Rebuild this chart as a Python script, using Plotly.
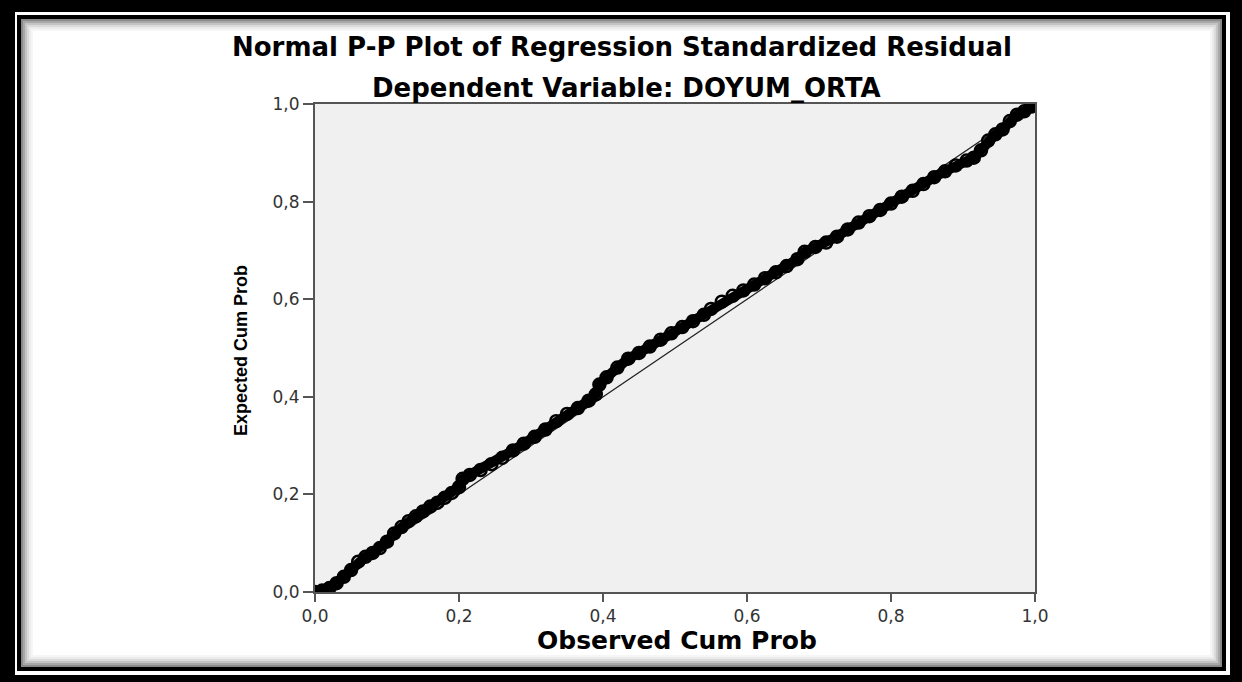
import plotly.graph_objects as go

W, H = 1242, 682
ML, MR, MT, MB = 315, 207, 104, 90
PW, PH = W - ML - MR, H - MT - MB

# Observed vs expected cumulative probabilities
observed = [0.000, 0.010, 0.020, 0.030, 0.040, 0.050, 0.060, 0.070, 0.080, 0.090,
            0.100, 0.110, 0.120, 0.130, 0.140, 0.150, 0.160, 0.170, 0.180, 0.190,
            0.200, 0.205, 0.215, 0.230, 0.245, 0.260, 0.275, 0.290, 0.305, 0.320,
            0.335, 0.350, 0.365, 0.380, 0.390, 0.395, 0.405, 0.420, 0.435, 0.450,
            0.465, 0.480, 0.495, 0.510, 0.525, 0.540, 0.550, 0.565, 0.580, 0.595,
            0.610, 0.625, 0.640, 0.655, 0.670, 0.680, 0.695, 0.710, 0.725, 0.740,
            0.755, 0.770, 0.785, 0.800, 0.815, 0.830, 0.845, 0.860, 0.875, 0.890,
            0.905, 0.915, 0.925, 0.935, 0.945, 0.955, 0.965, 0.975, 0.985, 0.995, 1.000]
expected = [0.000, 0.003, 0.008, 0.018, 0.031, 0.045, 0.062, 0.072, 0.080, 0.090,
            0.103, 0.120, 0.133, 0.145, 0.155, 0.165, 0.175, 0.183, 0.193, 0.203,
            0.215, 0.232, 0.240, 0.250, 0.262, 0.275, 0.290, 0.304, 0.318, 0.333,
            0.350, 0.365, 0.377, 0.392, 0.405, 0.425, 0.440, 0.460, 0.478, 0.490,
            0.503, 0.517, 0.530, 0.543, 0.555, 0.568, 0.580, 0.595, 0.607, 0.618,
            0.630, 0.643, 0.655, 0.668, 0.682, 0.697, 0.707, 0.716, 0.728, 0.743,
            0.757, 0.770, 0.783, 0.796, 0.810, 0.822, 0.836, 0.850, 0.862, 0.874,
            0.884, 0.890, 0.905, 0.925, 0.938, 0.948, 0.965, 0.978, 0.985, 0.995, 1.000]

ref_line = [0.0, 1.0]
tick_vals = [0.0, 0.2, 0.4, 0.6, 0.8, 1.0]
tick_text = ["0,0", "0,2", "0,4", "0,6", "0,8", "1,0"]

title1 = "Normal P-P Plot of Regression Standardized Residual"
title2 = "Dependent Variable: DOYUM_ORTA"
x_title = "Observed Cum Prob"
y_title = "Expected Cum Prob"


def px(x):
    return (x - ML) / PW


def py(y):
    return (H - MB - y) / PH


fig = go.Figure()
fig.add_trace(go.Scatter(x=ref_line, y=ref_line, mode="lines",
                         line=dict(color="#222222", width=1.3),
                         hoverinfo="skip", showlegend=False))
fig.add_trace(go.Scatter(x=observed, y=expected, mode="lines+markers",
                         line=dict(color="black", width=10),
                         marker=dict(symbol="circle-open", size=12, color="black",
                                     line=dict(width=2.5, color="black")),
                         showlegend=False))

shapes = []


def box(x0, y0, x1, y1, color):
    shapes.append(dict(type="rect", xref="paper", yref="paper",
                       x0=px(x0), x1=px(x1), y0=py(y1), y1=py(y0),
                       fillcolor=color, line=dict(width=0), layer="below"))


def frame(l, t, r, b, thick, color):
    box(l, t, r, t + thick, color)
    box(l, b - thick, r, b, color)
    box(l, t, l + thick, b, color)
    box(r - thick, t, r, b, color)


# outer thick black frame
box(0, 0, W, 12, "black")
box(0, 675, W, H, "black")
box(0, 0, 15, H, "black")
box(1230, 0, W, H, "black")
# inner thin black frame
frame(17, 15, 1226, 671, 4, "black")
# soft shadow inside the inner frame
shades = ["#8a8a8a", "#a8a8a8", "#c4c4c4", "#dadada", "#ebebeb", "#f6f6f6"]
for i, c in enumerate(shades):
    frame(21 + 2 * i, 19 + 2 * i, 1222 - 2 * i, 667 - 2 * i, 2, c)

annotations = [
    dict(text=title1, x=px(622), y=py(47), xref="paper", yref="paper",
         showarrow=False, font=dict(family="DejaVu Sans", size=26, color="black",
                                    weight="bold"), xanchor="center", yanchor="middle"),
    dict(text=title2, x=px(626), y=py(88), xref="paper", yref="paper",
         showarrow=False, font=dict(family="DejaVu Sans", size=26, color="black",
                                    weight="bold"), xanchor="center", yanchor="middle"),
    dict(text=x_title, x=px(677), y=py(640), xref="paper", yref="paper",
         showarrow=False, font=dict(family="DejaVu Sans", size=25, color="black",
                                    weight="bold"), xanchor="center", yanchor="middle"),
    dict(text=y_title, x=px(241), y=py(351), xref="paper", yref="paper",
         showarrow=False, textangle=-90,
         font=dict(family="Liberation Sans", size=18, color="black", weight="bold"),
         xanchor="center", yanchor="middle"),
]

axis_common = dict(range=[0, 1], tickvals=tick_vals, ticktext=tick_text,
                   showgrid=False, zeroline=False, showline=True, mirror=True,
                   linecolor="#555555", linewidth=2, ticks="outside",
                   tickcolor="#555555", tickwidth=2,
                   tickfont=dict(family="DejaVu Sans", size=17, color="#333333"),
                   fixedrange=True)

fig.update_layout(
    width=W, height=H,
    margin=dict(l=ML, r=MR, t=MT, b=MB, pad=0),
    paper_bgcolor="white", plot_bgcolor="#f0f0f0",
    xaxis=dict(axis_common, ticklen=8),
    yaxis=dict(axis_common, ticklen=10),
    shapes=shapes, annotations=annotations,
)

fig.write_html("out.html", config={"displayModeBar": False},
               post_script="document.body.style.margin='0';document.body.style.overflow='hidden';")
